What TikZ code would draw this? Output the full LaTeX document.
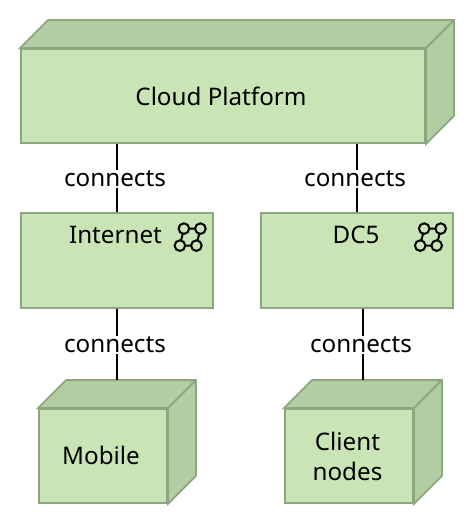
\documentclass[tikz,border=0pt]{standalone}
\usepackage{fontspec}
\usepackage{xcolor}
\usepackage{tikz}
\usetikzlibrary{positioning,calc}
\setmainfont{Noto Sans}

\definecolor{facefront}{HTML}{C9E5B6}
\definecolor{faceside}{HTML}{B3CDA3}
\definecolor{faceline}{HTML}{8CA67F}

% side and top faces behind a front node
\newcommand{\cubefaces}[1]{
    \draw[face] (#1.north west) -- ++(28,-28) -| ($(#1.south east)+(28,-28)$) -- (#1.south east) -- (#1.north east) -- cycle;
    \draw[face] (#1.north east) -- ++(28,-28);
}
% network icon, offset from the north east corner of a box
\newcommand{\neticon}[1]{
    \begin{scope}[shift={($(#1.north east)+(-30,16.5)$)}]
        \draw[icon] (0,0) -- (16.5,0) -- (12.5,17) -- (-4,17) -- cycle;
        \foreach \px/\py in {0/0, 16.5/0, -4/17, 12.5/17} {
            \draw[icon, fill=facefront] (\px,\py) circle (5.3pt);
        }
    \end{scope}
}

\begin{document}
\begin{tikzpicture}[
    x=1pt, y=-1pt,
    front/.style={draw=faceline, fill=facefront, line width=1.8pt, inner sep=0pt, align=center},
    face/.style={draw=faceline, fill=faceside, line width=1.8pt, line join=miter},
    link/.style={draw=black, line width=1.6pt},
    tag/.style={fill=white, font=\fontsize{24.2}{28}\selectfont, inner sep=1pt, xshift=-2pt, yshift=-0.6pt},
    title/.style={font=\fontsize{24.2}{30}\selectfont, align=center, inner sep=0pt},
    icon/.style={draw=black, line width=2pt},
]
    \useasboundingbox (0,0) rectangle (474,524);

    % Cloud
    \node[front, minimum width=404pt, minimum height=94pt] (cloud) at (223,96) {};
    \node[title] (cloudtext) at (221,96) {Cloud Platform};

    % Networks
    \node[front, minimum width=192pt, minimum height=95pt] (internet) at (117,260.5) {};
    \node[front, minimum width=192.4pt, minimum height=95pt] (dcfive) at (357.1,260.5) {};
    \node[title] (internettext) at (115.5,235) {Internet};
    \node[title] (dcfivetext) at (356,235) {DC5};

    % Devices
    \node[front, minimum width=128pt, minimum height=94pt] (mobile) at (103,456) {};
    \node[front, minimum width=128pt, minimum height=94pt] (client) at (349,456) {};
    \node[title] (mobiletext) at (101,455) {Mobile};
    \node[title] (clienttext) at (347.5,456) {Client\\nodes};

    % Faces
    \cubefaces{cloud}
    \cubefaces{mobile}
    \cubefaces{client}
    \neticon{internet}
    \neticon{dcfive}

    % Connections
    \coordinate (mobiletop) at ($(mobile.north)+(14,-28)$);
    \coordinate (clienttop) at ($(client.north)+(14,-28)$);
    \draw[link] (internet |- cloud.south) -- node[tag] (connectsa) {connects} (internet.north);
    \draw[link] (dcfive |- cloud.south) -- node[tag] (connectsb) {connects} (dcfive.north);
    \draw[link] (mobiletop |- internet.south) -- node[tag] (connectsc) {connects} (mobiletop);
    \draw[link] (clienttop |- dcfive.south) -- node[tag] (connectsd) {connects} (clienttop);
\end{tikzpicture}
\end{document}
